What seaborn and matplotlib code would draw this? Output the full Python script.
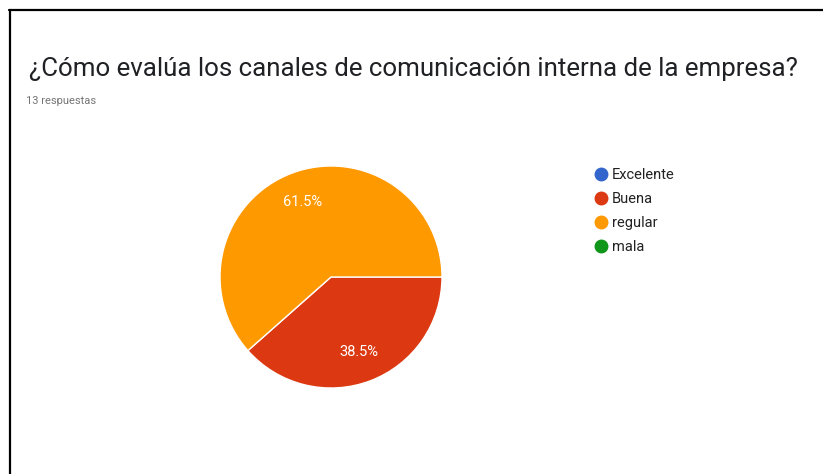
import matplotlib
matplotlib.use("Agg")
import matplotlib.pyplot as plt
from matplotlib.lines import Line2D
import seaborn as sns

# Survey results
categories = ["Excelente", "Buena", "regular", "mala"]
counts = [0, 5, 8, 0]
colors = ["#3366CC", "#DC3912", "#FF9900", "#109618"]
title = "¿Cómo evalúa los canales de comunicación interna de la empresa?"
subtitle = "13 respuestas"

sns.set_theme(style="white")
plt.rcParams["font.family"] = ["Roboto", "DejaVu Sans"]

W, H = 823, 474
fig = plt.figure(figsize=(W / 100, H / 100), dpi=100)
fig.patch.set_facecolor("white")

# Frame lines along the top and left edges
fig.add_artist(Line2D([9 / W, 1], [1 - 9.5 / H, 1 - 9.5 / H], color="black", lw=1.6,
                      transform=fig.transFigure))
fig.add_artist(Line2D([9.5 / W, 9.5 / W], [0, 1 - 9.5 / H], color="black", lw=1.6,
                      transform=fig.transFigure))

fig.text(29 / W, 1 - 69 / H, title, fontsize=18.6, color="#202124", va="center", ha="left")
fig.text(26 / W, 1 - 101 / H, subtitle, fontsize=8, color="#757575", va="center", ha="left")

# Pie axes: centre (331, 277) px, radius 111 px
cx, cy, r = 331, 277, 111
ax = fig.add_axes([(cx - r) / W, (H - cy - r) / H, 2 * r / W, 2 * r / H])

shown = [(c, v, col) for c, v, col in zip(categories, counts, colors) if v > 0]
vals = [v for _, v, _ in shown]
cols = [col for _, _, col in shown]

wedges, texts, autotexts = ax.pie(
    vals, colors=cols, startangle=0, counterclock=False,
    autopct="%1.1f%%", pctdistance=0.72,
    wedgeprops=dict(edgecolor="white", linewidth=1),
    textprops=dict(color="white", fontsize=10.5),
)
ax.set_xlim(-1, 1)
ax.set_ylim(-1, 1)
ax.set_aspect("equal")
ax.axis("off")

# Legend lists every category, including those with no answers
handles = [Line2D([0], [0], marker="o", linestyle="", markersize=9,
                  markerfacecolor=col, markeredgecolor=col) for col in colors]
fig.legend(handles, categories, loc="upper left",
           bbox_to_anchor=(584 / W, 1 - 161 / H), frameon=False,
           fontsize=10.5, labelcolor="#222222", handletextpad=0.1,
           labelspacing=0.68, borderpad=0, handlelength=1.3)

fig.savefig("out.png", dpi=100)
